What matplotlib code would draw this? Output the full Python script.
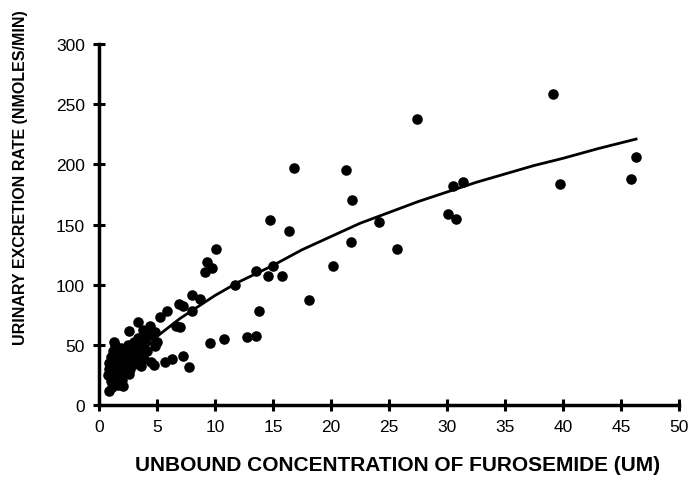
import matplotlib
matplotlib.use("Agg")
import matplotlib.pyplot as plt

# Scatter data: unbound furosemide concentration (uM) vs excretion rate (nmoles/min)
conc = [
    27.4, 39.1, 46.3, 45.9, 39.7, 30.5, 31.4, 30.1, 30.8, 25.7,
    16.8, 21.3, 21.8, 14.7, 16.4, 24.1, 21.7, 20.2, 15.0, 13.5,
    14.6, 15.8, 18.1, 11.7, 13.8, 10.1, 9.3, 9.1, 9.7, 7.2,
    8.0, 8.7, 8.0, 7.0, 12.8, 13.5, 10.8, 9.6, 7.2, 7.8,
    5.9, 5.3, 6.6, 6.3, 5.7, 4.7, 6.9,
    0.8, 0.9, 0.9, 1.0, 1.0, 1.1, 1.2, 1.2, 1.3, 1.4,
    1.4, 1.5, 1.6, 1.6, 1.7, 1.8, 1.8, 1.9, 2.0, 2.0,
    2.1, 2.2, 2.3, 2.3, 2.4, 2.5, 2.5, 2.6, 2.7, 2.8,
    2.9, 3.0, 3.0, 3.1, 3.2, 3.4, 3.4, 3.5, 3.6, 3.7,
    3.8, 3.9, 4.0, 4.1, 4.3, 4.4, 4.5, 4.8, 4.8, 5.0,
    1.3, 2.1, 0.9, 1.3, 1.1, 1.7, 2.6, 3.3,
]
rate = [
    237.7, 258.5, 206.0, 188.0, 183.7, 182.0, 185.0, 158.8, 154.6, 129.7,
    197.0, 195.0, 170.0, 153.8, 144.6, 152.0, 135.5, 115.5, 115.5, 111.4,
    107.0, 107.0, 87.3, 99.5, 78.0, 129.7, 118.9, 110.5, 113.9, 82.3,
    91.4, 88.0, 78.0, 65.0, 56.5, 57.4, 54.9, 51.5, 40.7, 31.6,
    78.0, 73.0, 66.0, 38.0, 35.7, 33.0, 84.0,
    25.0, 30.0, 35.0, 20.0, 40.0, 15.0, 28.0, 45.0, 33.0, 50.0,
    22.0, 38.0, 17.0, 30.0, 42.0, 25.0, 35.0, 47.0, 21.0, 30.0,
    40.0, 36.0, 27.0, 45.0, 33.0, 50.0, 40.0, 61.5, 30.0, 44.0,
    37.0, 52.0, 34.0, 47.0, 40.0, 69.0, 56.0, 44.0, 32.0, 50.0,
    62.0, 38.0, 55.0, 45.0, 58.0, 66.0, 35.7, 61.0, 49.0, 52.0,
    52.0, 16.0, 11.6, 19.0, 27.0, 33.0, 26.0, 36.0,
]

# Fitted curve
curve_x = [1.0, 3.0, 5.0, 7.0, 10.0, 12.0, 15.0, 17.5, 20.0, 22.5, 25.0,
           27.5, 30.0, 32.5, 35.0, 37.5, 40.0, 43.0, 46.3]
curve_y = [15.0, 37.0, 57.0, 72.0, 91.0, 102.0, 116.0, 129.0, 140.0, 151.0, 160.0,
           169.0, 177.0, 185.0, 192.0, 199.0, 205.0, 213.0, 221.0]

xticks = [0, 5, 10, 15, 20, 25, 30, 35, 40, 45, 50]
yticks = [0, 50, 100, 150, 200, 250, 300]

W, H = 688, 485
fig = plt.figure(figsize=(W / 100, H / 100), dpi=100)
ax = fig.add_axes([99 / W, 1 - 406 / H, (679 - 99) / W, (406 - 45) / H])

ax.plot(curve_x, curve_y, color="black", lw=2.0, zorder=2)
ax.plot(conc, rate, "o", color="black", ms=7.6, mec="black", mew=0, zorder=3, clip_on=False)

ax.set_xlim(0, 50)
ax.set_ylim(0, 300)
ax.set_xticks(xticks)
ax.set_yticks(yticks)

for s in ("top", "right"):
    ax.spines[s].set_visible(False)
for s in ("left", "bottom"):
    ax.spines[s].set_linewidth(2.5)

tick_font = ["Liberation Sans", "DejaVu Sans"]
ax.tick_params(direction="inout", length=8, width=2.2, labelsize=12.5, pad=6)
for lab in ax.get_xticklabels() + ax.get_yticklabels():
    lab.set_fontfamily(tick_font)

fig.text(398 / W, 1 - 466 / H, "UNBOUND CONCENTRATION OF FUROSEMIDE (UM)",
         ha="center", va="center", fontsize=15, fontweight="bold",
         family=["Liberation Sans", "DejaVu Sans"])
fig.text(21 / W, 1 - 178 / H, "URINARY EXCRETION RATE (NMOLES/MIN)",
         ha="center", va="center", rotation=90, fontsize=11.5, fontweight="bold",
         family=["Liberation Sans", "DejaVu Sans"])

fig.savefig("out.png", dpi=100)
